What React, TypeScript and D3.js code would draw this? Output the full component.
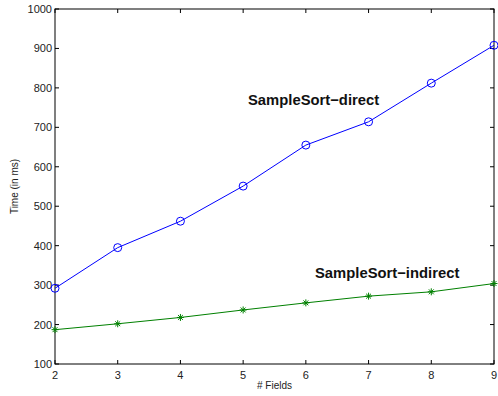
import React, { useRef, useEffect } from 'react';
import * as d3 from 'd3';

const fields = [2, 3, 4, 5, 6, 7, 8, 9];
const directTimes = [292, 395, 462, 551, 655, 714, 812, 908];
const indirectTimes = [187, 202, 218, 237, 255, 272, 283, 304];
const xTicks = [2, 3, 4, 5, 6, 7, 8, 9];
const yTicks = [100, 200, 300, 400, 500, 600, 700, 800, 900, 1000];

const App = () => {
  const svgRef = useRef<SVGSVGElement>(null);
  const width = 498;
  const height = 396;
  const margin = { top: 9, right: 4, bottom: 32, left: 55 };

  useEffect(() => {
    const svg = d3.select(svgRef.current);
    svg.selectAll('*').remove();

    const x = d3.scaleLinear().domain([2, 9]).range([margin.left, width - margin.right]);
    const y = d3.scaleLinear().domain([100, 1000]).range([height - margin.bottom, margin.top]);
    const font = 'Liberation Sans, Arial, Helvetica, sans-serif';

    const g = svg.append('g');

    // box
    g.append('rect')
      .attr('x', x(2)).attr('y', y(1000))
      .attr('width', x(9) - x(2)).attr('height', y(100) - y(1000))
      .attr('fill', 'none').attr('stroke', '#000').attr('stroke-width', 1);

    const tl = 4;
    xTicks.forEach(t => {
      g.append('line').attr('x1', x(t)).attr('x2', x(t)).attr('y1', y(100)).attr('y2', y(100) - tl).attr('stroke', '#000');
      g.append('line').attr('x1', x(t)).attr('x2', x(t)).attr('y1', y(1000)).attr('y2', y(1000) + tl).attr('stroke', '#000');
      g.append('text').attr('x', x(t)).attr('y', y(100) + 15)
        .attr('text-anchor', 'middle').style('font-family', font).style('font-size', '11px')
        .attr('fill', '#222').text(t);
    });
    yTicks.forEach(t => {
      g.append('line').attr('x1', x(2)).attr('x2', x(2) + tl).attr('y1', y(t)).attr('y2', y(t)).attr('stroke', '#000');
      g.append('line').attr('x1', x(9)).attr('x2', x(9) - tl).attr('y1', y(t)).attr('y2', y(t)).attr('stroke', '#000');
      g.append('text').attr('x', x(2) - 3).attr('y', y(t) + 4)
        .attr('text-anchor', 'end').style('font-family', font).style('font-size', '11px')
        .attr('fill', '#222').text(t);
    });

    g.append('text').attr('x', (x(2) + x(9)) / 2).attr('y', 389)
      .attr('text-anchor', 'middle').style('font-family', font).style('font-size', '10px')
      .attr('fill', '#222').text('# Fields');
    g.append('text').attr('transform', `translate(18, ${(y(100) + y(1000)) / 2}) rotate(-90)`)
      .attr('text-anchor', 'middle').style('font-family', font).style('font-size', '10px')
      .attr('fill', '#222').text('Time (in ms)');

    const line = d3.line<number>().x((d, i) => x(fields[i])).y(d => y(d));

    g.append('path').datum(directTimes).attr('d', line)
      .attr('fill', 'none').attr('stroke', '#0000ff').attr('stroke-width', 1);
    g.selectAll('.circ').data(directTimes).enter().append('circle')
      .attr('cx', (d, i) => x(fields[i])).attr('cy', d => y(d)).attr('r', 4)
      .attr('fill', 'none').attr('stroke', '#0000ff').attr('stroke-width', 1);

    const green = '#008000';
    g.append('path').datum(indirectTimes).attr('d', line)
      .attr('fill', 'none').attr('stroke', green).attr('stroke-width', 1);
    const s = 3.5;
    const star = g.selectAll('.star').data(indirectTimes).enter().append('g')
      .attr('transform', (d, i) => `translate(${x(fields[i])}, ${y(d)})`);
    star.append('path')
      .attr('d', `M${-s},0L${s},0M0,${-s}L0,${s}M${-s * 0.7},${-s * 0.7}L${s * 0.7},${s * 0.7}M${-s * 0.7},${s * 0.7}L${s * 0.7},${-s * 0.7}`)
      .attr('stroke', green).attr('stroke-width', 1);

    g.append('text').attr('x', 248).attr('y', 105)
      .style('font-family', font).style('font-size', '14.8px').style('font-weight', 'bold')
      .attr('fill', '#111').text('SampleSort\u2212direct');
    g.append('text').attr('x', 315).attr('y', 278)
      .style('font-family', font).style('font-size', '14.8px').style('font-weight', 'bold')
      .attr('fill', '#111').text('SampleSort\u2212indirect');
  }, []);

  return (
    <svg ref={svgRef} width={width} height={height}
      style={{ position: 'absolute', left: 0, top: 0, background: '#fff' }} />
  );
};

export default App;
